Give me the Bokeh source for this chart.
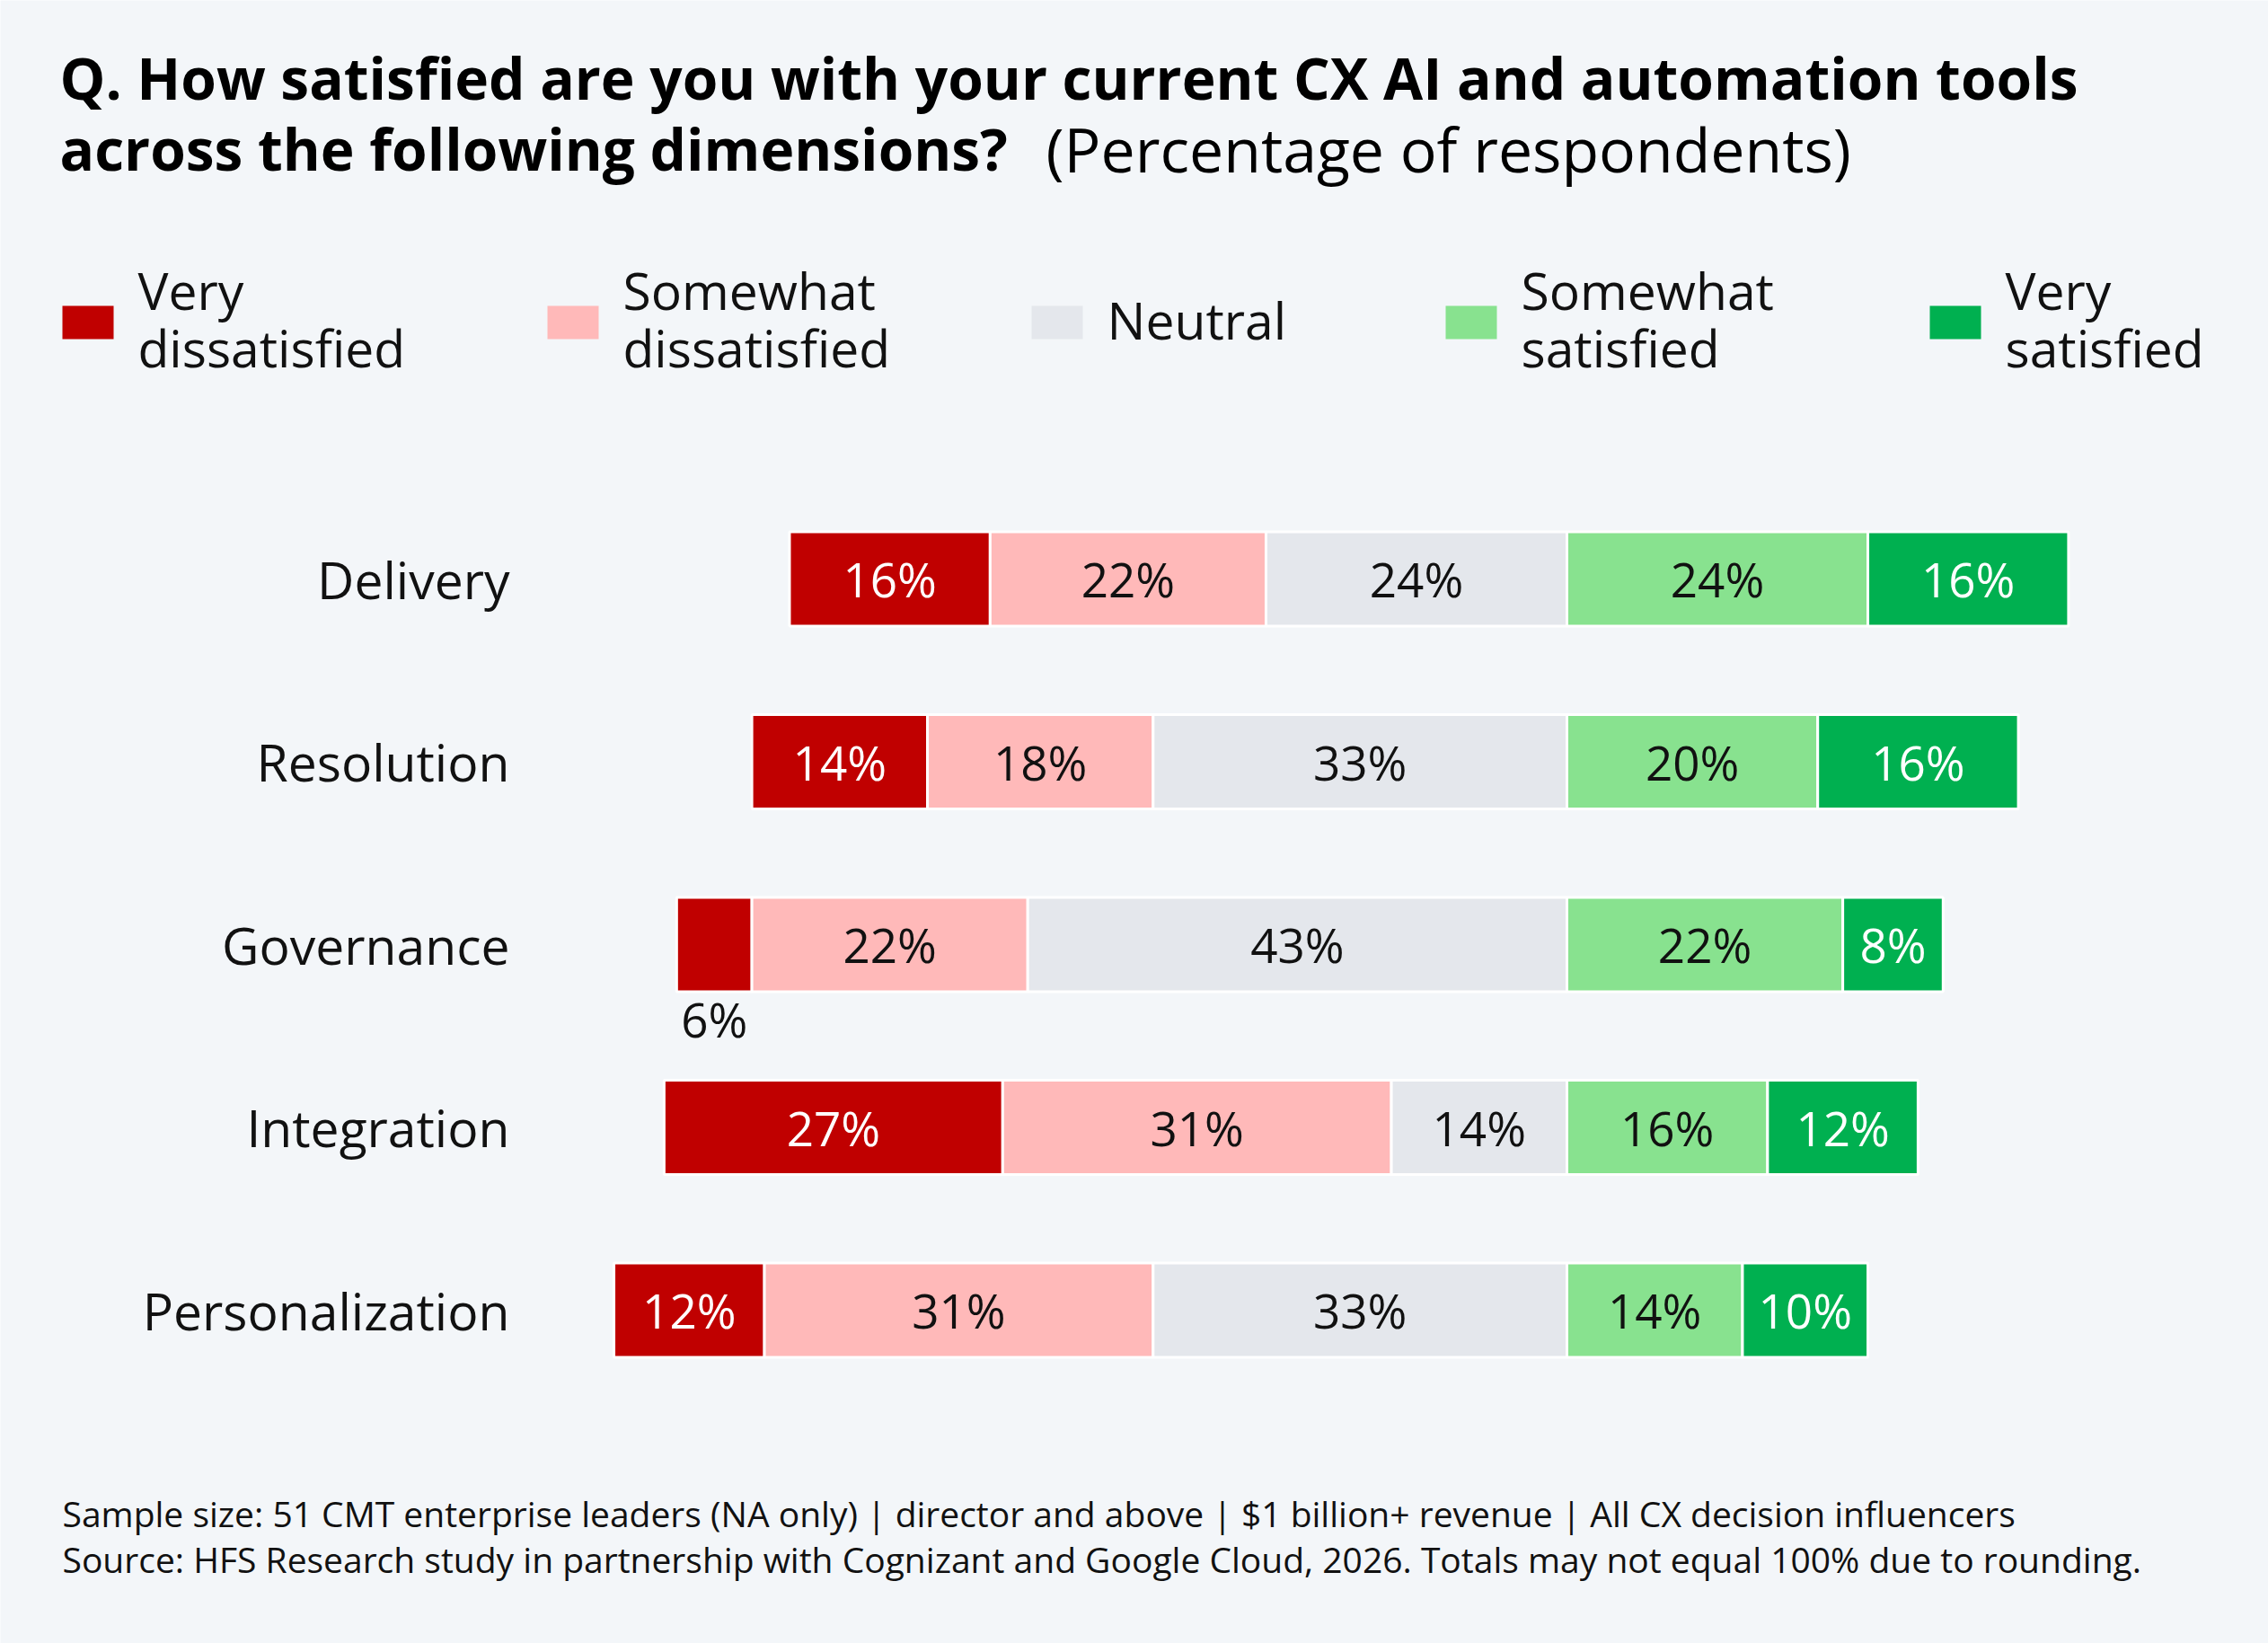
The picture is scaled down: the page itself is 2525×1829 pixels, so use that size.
from bokeh.plotting import figure
from bokeh.models import Range1d, ColumnDataSource
from bokeh.core.properties import value
from bokeh.embed import file_html
from bokeh.resources import INLINE

# ---------------- data ----------------
categories = ["Delivery", "Resolution", "Governance", "Integration", "Personalization"]
very_dissatisfied = [16, 14, 6, 27, 12]
somewhat_dissatisfied = [22, 18, 22, 31, 31]
neutral = [24, 33, 43, 14, 33]
somewhat_satisfied = [24, 20, 22, 16, 14]
very_satisfied = [16, 16, 8, 12, 10]

series_names = ["Very dissatisfied", "Somewhat dissatisfied", "Neutral",
                "Somewhat satisfied", "Very satisfied"]
legend_lines = [["Very", "dissatisfied"], ["Somewhat", "dissatisfied"], ["Neutral"],
                ["Somewhat", "satisfied"], ["Very", "satisfied"]]

title_line1 = "Q. How satisfied are you with your current CX AI and automation tools"
title_line2_bold = "across the following dimensions?"
title_line2_rest = "(Percentage of respondents)"
footnote1 = ("Sample size: 51 CMT enterprise leaders (NA only) | director and above | "
             "$1 billion+ revenue | All CX decision influencers")
footnote2 = ("Source: HFS Research study in partnership with Cognizant and Google Cloud, 2026. "
             "Totals may not equal 100% due to rounding.")

# ---------------- style ----------------
COLORS = ["#C00000", "#FFB9B9", "#E4E7EC", "#88E28F", "#00B050"]
TEXT_COLORS = ["#FFFFFF", "#111111", "#111111", "#111111", "#FFFFFF"]
BG = "#F3F6F9"
FONT = "Open Sans"

W, H = 2525, 1829
ZERO_PX = 1744.0
PX_PER = 13.96
BAR_Y0 = 644.0
BAR_STEP = 203.5
BAR_H = 105.0


def px2x(px):
    return (px - ZERO_PX) / PX_PER


p = figure(width=W, height=H, output_backend="svg", toolbar_location=None,
           x_range=Range1d(px2x(0), px2x(W)), y_range=Range1d(H, 0),
           x_axis_location=None, y_axis_location=None,
           min_border=0, background_fill_color=BG, border_fill_color=BG,
           outline_line_color=None)
p.xgrid.visible = False
p.ygrid.visible = False

series = [very_dissatisfied, somewhat_dissatisfied, neutral, somewhat_satisfied, very_satisfied]

# ---------------- bars ----------------
for s_idx, vals in enumerate(series):
    lefts, rights, ys, labels, lx, ly = [], [], [], [], [], []
    blx, bly, blabels = [], [], []
    for i in range(len(categories)):
        if s_idx < 3:
            start = -(very_dissatisfied[i] + somewhat_dissatisfied[i] + neutral[i])
            start += sum(series[k][i] for k in range(s_idx))
        else:
            start = sum(series[k][i] for k in range(3, s_idx))
        end = start + vals[i]
        y = BAR_Y0 + i * BAR_STEP
        lefts.append(start)
        rights.append(end)
        ys.append(y)
        if vals[i] >= 7:
            labels.append(f"{vals[i]}%")
            lx.append((start + end) / 2)
            ly.append(y)
        else:
            blabels.append(f"{vals[i]}%")
            blx.append((start + end) / 2)
            bly.append(y + BAR_H / 2 + 30)
    src = ColumnDataSource(dict(left=lefts, right=rights, y=ys))
    p.hbar(y="y", left="left", right="right", height=BAR_H, source=src,
           fill_color=COLORS[s_idx], line_color="#FFFFFF", line_width=3)
    p.text(x=lx, y=ly, text=labels, text_font=value(FONT), text_font_size="53px",
           text_align="center", text_baseline="middle", text_color=TEXT_COLORS[s_idx])
    if blabels:
        p.text(x=blx, y=bly, text=blabels, text_font=value(FONT), text_font_size="53px",
               text_align="center", text_baseline="middle", text_color="#111111")

# category labels
p.text(x=[px2x(567)] * len(categories),
       y=[BAR_Y0 + i * BAR_STEP for i in range(len(categories))],
       text=categories, text_font=value(FONT), text_font_size="57px",
       text_align="right", text_baseline="middle", text_color="#111111")

# ---------------- title ----------------
p.text(x=[px2x(66)], y=[86], text=[title_line1], text_font=value(FONT),
       text_font_size="64px", text_font_style="bold", text_align="left",
       text_baseline="middle", text_color="#000000")
p.text(x=[px2x(66)], y=[165], text=[title_line2_bold], text_font=value(FONT),
       text_font_size="64px", text_font_style="bold", text_align="left",
       text_baseline="middle", text_color="#000000")
p.text(x=[px2x(1164)], y=[165], text=[title_line2_rest], text_font=value(FONT),
       text_font_size="68px", text_align="left",
       text_baseline="middle", text_color="#000000")

# ---------------- legend ----------------
leg_px = [69, 609, 1148, 1609, 2148]
for k, lines in enumerate(legend_lines):
    x0 = leg_px[k]
    p.quad(left=[px2x(x0)], right=[px2x(x0 + 57)], top=[340], bottom=[377],
           fill_color=COLORS[k], line_color=None)
    if len(lines) == 2:
        ys_ = [322, 386]
    else:
        ys_ = [355]
    p.text(x=[px2x(x0 + 84)] * len(lines), y=ys_, text=lines, text_font=value(FONT),
           text_font_size="57px", text_align="left", text_baseline="middle",
           text_color="#111111")

# ---------------- footnotes ----------------
p.text(x=[px2x(69)], y=[1684], text=[footnote1], text_font=value(FONT),
       text_font_size="39px", text_align="left", text_baseline="middle",
       text_color="#111111")
p.text(x=[px2x(69)], y=[1735], text=[footnote2], text_font=value(FONT),
       text_font_size="39px", text_align="left", text_baseline="middle",
       text_color="#111111")

open("out.html", "w").write(file_html(p, INLINE))
